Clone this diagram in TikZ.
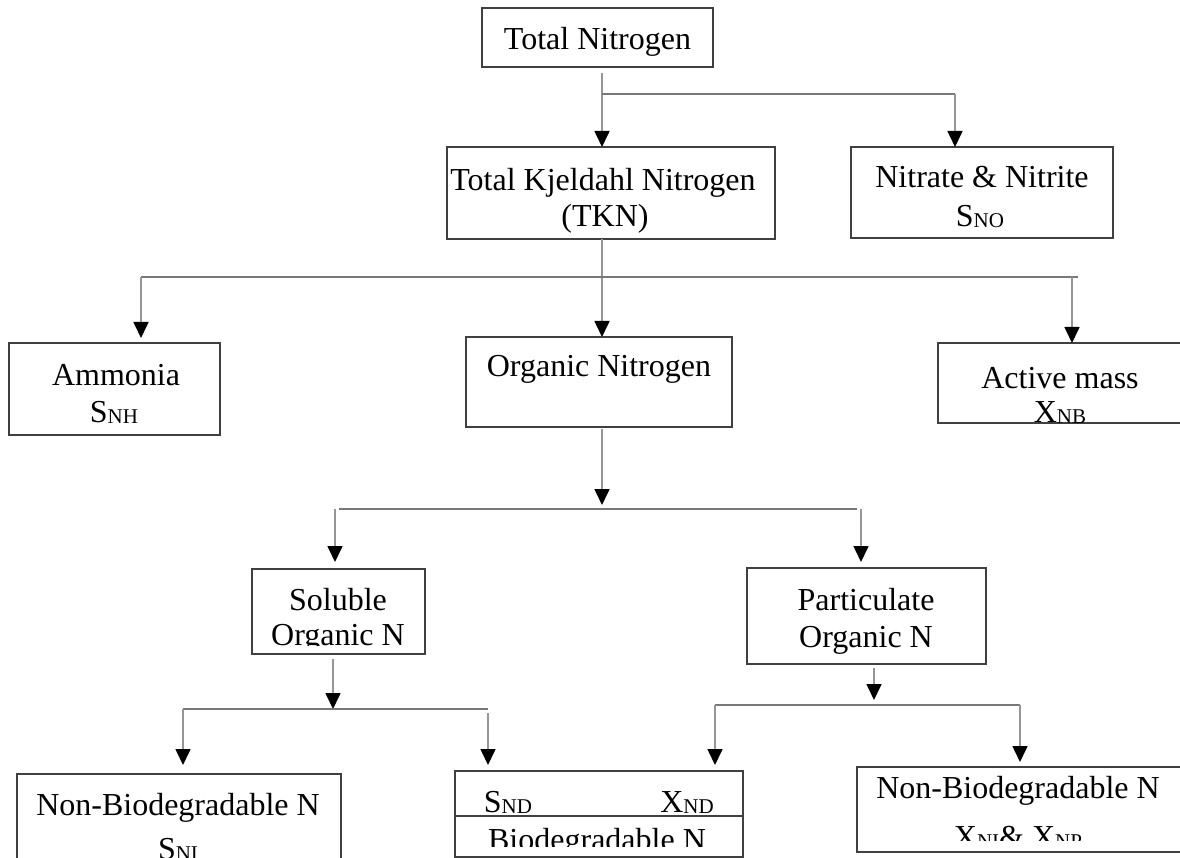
\documentclass[tikz,border=0pt]{standalone}
\usepackage{fontspec}
\setmainfont{Liberation Serif}
\usetikzlibrary{arrows.meta}
\definecolor{boxc}{RGB}{64,64,64}
\definecolor{vc}{RGB}{150,150,150}
\definecolor{hc}{RGB}{120,120,120}
\newcommand{\sbs}[1]{{\fontsize{21}{21}\selectfont\raisebox{-1pt}{#1}}}
\begin{document}
\begin{tikzpicture}[x=1pt,y=-1pt,
  box/.style={draw=boxc, line width=2pt, inner sep=0pt, outer sep=0pt},
  lbl/.style={anchor=base, inner sep=0pt, outer sep=0pt, font=\fontsize{32}{37}\selectfont},
  vline/.style={draw=vc, line width=1.6pt},
  hline/.style={draw=hc, line width=2.4pt},
  tip/.style={-{Triangle[length=16pt,width=15pt,color=black]}}]
\useasboundingbox (0,0) rectangle (1180,858);
\fill[white] (0,0) rectangle (1180,858);
\clip (0,0) rectangle (1180,858);

% boxes
\node[box, minimum width=231pt, minimum height=59pt] (tn)  at (597.5,37.5) {};
\node[box, minimum width=328pt, minimum height=92pt] (tkn) at (611,193) {};
\node[box, minimum width=262pt, minimum height=91pt] (nit) at (982,192.5) {};
\node[box, minimum width=211pt, minimum height=92pt] (amm) at (114.5,389) {};
\node[box, minimum width=266pt, minimum height=90pt] (org) at (599,382) {};
\node[box, minimum width=245pt, minimum height=80pt] (act) at (1060.5,383) {};
\node[box, minimum width=173pt, minimum height=85pt] (sol) at (338.5,611.5) {};
\node[box, minimum width=239pt, minimum height=96pt] (par) at (866.5,616) {};
\node[box, minimum width=324pt, minimum height=96pt] (nbl) at (179,822) {};
\node[box, minimum width=288pt, minimum height=86pt] (bio) at (599,814) {};
\node[box, minimum width=326pt, minimum height=85pt] (nbr) at (1020,809.5) {};
\coordinate (bm) at (0,816);
\draw[draw=boxc, line width=2pt] (bio.west |- bm) -- (bio.east |- bm);

% labels
\node[lbl] (tn-t) at (597.5,50) {Total Nitrogen};
\node[lbl] (tkn-t1) at (603,191) {Total Kjeldahl Nitrogen};
\node[lbl] (tkn-t2) at (605,227) {(TKN)};
\node[lbl] (nit-t1) at (982,188) {Nitrate \& Nitrite};
\node[lbl] (nit-t2) at (980,227) {S\sbs{NO}};
\node[lbl] (amm-t1) at (116,385) {Ammonia};
\node[lbl] (amm-t2) at (114,422) {S\sbs{NH}};
\node[lbl] (org-t) at (599,377) {Organic Nitrogen};
\node[lbl] (act-t1) at (1060,388) {Active mass};
\node[lbl] (act-t2) at (1060,422) {X\sbs{NB}};
\node[lbl] (sol-t1) at (338,610) {Soluble};
\coordinate (solclip) at (0,645);
\begin{scope}
  \clip (sol.north west) rectangle (sol.east |- solclip);
  \node[lbl] (sol-t2) at (338,645) {Organic N};
\end{scope}
\node[lbl] (par-t1) at (866,610) {Particulate};
\node[lbl] (par-t2) at (866,647) {Organic N};
\node[lbl] (nbl-t1) at (178,815) {Non-Biodegradable N};
\node[lbl] (nbl-t2) at (178,859) {S\sbs{NI}};
\node[lbl] (bio-s) at (508,812) {S\sbs{ND}};
\node[lbl] (bio-x) at (687,812) {X\sbs{ND}};
\coordinate (bioclip) at (0,846);
\begin{scope}
  \clip (bio.west |- bm) rectangle (bio.east |- bioclip);
  \node[lbl] (bio-t) at (597,850) {Biodegradable N};
\end{scope}
\node[lbl] (nbr-t1) at (1018,798) {Non-Biodegradable N};
\coordinate (nbrclip) at (0,840);
\begin{scope}
  \clip (nbr.north west) rectangle (nbr.east |- nbrclip);
  \node[lbl] (nbr-t2) at (1018,847) {X\sbs{NI}\& X\sbs{NP}};
\end{scope}

% connectors: Total Nitrogen
\coordinate (j1) at (602,94);
\coordinate (j2) at (955,94);
\draw[vline, tip, shorten <=6pt] (j1 |- tn.south) -- (j1 |- tkn.north);
\draw[hline] (j1) -- (j2);
\draw[vline, tip] (j2) -- (j2 |- nit.north);

% TKN
\coordinate (k1) at (141,277);
\coordinate (k2) at (1078,277);
\coordinate (k3) at (1072,277);
\coordinate (k4) at (602,277);
\draw[vline, tip] (k4 |- tkn.south) -- (k4 |- org.north);
\draw[hline] (k1) -- (k2);
\draw[vline, tip, shorten >=5pt] (k1) -- (k1 |- amm.north);
\draw[vline, tip] (k3) -- (k3 |- act.north);

% Organic Nitrogen
\coordinate (o1) at (602,509);
\coordinate (o2) at (339,509);
\coordinate (o3) at (857,509);
\coordinate (o4) at (335,509);
\coordinate (o5) at (861,509);
\draw[vline, tip, shorten <=2pt, shorten >=4pt] (o1 |- org.south) -- (o1);
\draw[hline] (o2) -- (o3);
\draw[vline, tip, shorten >=7pt] (o4) -- (o4 |- sol.north);
\draw[vline, tip, shorten >=6pt] (o5) -- (o5 |- par.north);

% Soluble
\coordinate (s1) at (333,709);
\coordinate (s2) at (183,709);
\coordinate (s3) at (488,709);
\draw[vline, tip, shorten <=5pt] (s1 |- sol.south) -- (s1);
\draw[hline] (s2) -- (s3);
\draw[vline, tip, shorten >=9pt] (s2) -- (s2 |- nbl.north);
\draw[vline, tip, shorten <=4pt, shorten >=6pt] (s3) -- (s3 |- bio.north);

% Particulate
\coordinate (p1) at (874,705);
\coordinate (p2) at (715,705);
\coordinate (p3) at (1020,705);
\draw[vline, tip, shorten <=4pt, shorten >=5pt] (p1 |- par.south) -- (p1);
\draw[hline] (p2) -- (p3);
\draw[vline, tip, shorten >=6pt] (p2) -- (p2 |- bio.north);
\draw[vline, tip, shorten >=5pt] (p3) -- (p3 |- nbr.north);
\end{tikzpicture}
\end{document}
